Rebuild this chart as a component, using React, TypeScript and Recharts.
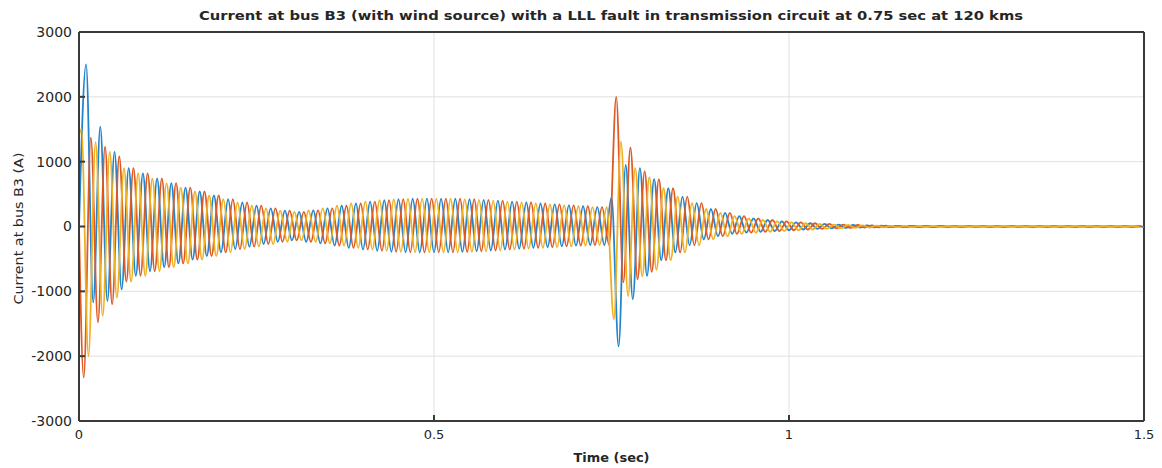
import React from 'react';
import { LineChart, Line, XAxis, YAxis, CartesianGrid, Label, ReferenceLine } from 'recharts';

// ---- text ----
const TITLE =
  'Current at bus B3 (with wind source) with a LLL fault in transmission circuit at 0.75 sec at 120 kms';
const X_LABEL = 'Time (sec)';
const Y_LABEL = 'Current at bus B3 (A)';

// ---- axes ----
const X_TICKS = [0, 0.5, 1, 1.5];
const Y_TICKS = [-3000, -2000, -1000, 0, 1000, 2000, 3000];
const X_DOMAIN: [number, number] = [0, 1.5];
const Y_DOMAIN: [number, number] = [-3000, 3000];

// ---- waveform timing (50 Hz system, fault at 0.75 s) ----
const PERIOD = 0.02;
const FAULT_TIME = 0.75;
const END_TIME = 1.5;

// ---- phases ----
const phaseNames = ['Phase A', 'Phase B', 'Phase C'];
const phaseColors = ['#2184cc', '#de5a24', '#efb022'];
// time of each phase's first extreme after t = 0, and whether it is a peak (+1) or a trough (-1)
const firstExtremeTime = [0.01, 0.02 / 3, 0.01 / 3];
const firstExtremeSign = [1, -1, 1];
// value at t = 0
const initialValue = [0, 0, 1400];

// successive extremes (peak / trough alternating) read at switch-on
const startA = [2500, -1170, 1540, -1150, 1150, -970];
const startB = [-2330, 1370, -1480, 1230, -1200, 1080];
const startC = [1500, -2000, 1300, -1380, 1150, -1100];

// successive extremes read from the fault instant (0.75 s) onward
const faultA = [450, -1850, 950, -1120, 900, -760];
const faultB = [2000, -860, 1215, -815, 850, -700];
const faultC = [-1430, 1310, -1075, 900, -770, 760];

// positive peak per cycle (cycle k spans k*0.02 .. (k+1)*0.02 s)
const upperEnvelope = [
  1500, 1400, 1150, 900, 820, 740, 670, 600, 540, 480,
  420, 370, 320, 280, 245, 225, 250, 280, 320, 355,
  385, 405, 420, 428, 430, 430, 428, 420, 410, 398,
  385, 370, 355, 340, 325, 312, 300, 300, 1000, 880,
  730, 590, 460, 360, 270, 210, 160, 125, 100, 80,
  65, 50, 40, 30, 23, 17, 13, 10, 9, 8,
  8, 7, 7, 6, 6, 6, 5, 5, 5, 5,
  5, 5, 5, 5, 5,
];
// negative trough per cycle
const lowerEnvelope = [
  -1500, -1300, -1100, -850, -760, -690, -630, -570, -510, -455,
  -400, -350, -310, -270, -235, -215, -235, -260, -295, -330,
  -355, -375, -390, -398, -400, -400, -398, -392, -382, -370,
  -355, -342, -330, -318, -305, -295, -285, -285, -1000, -800,
  -670, -520, -400, -290, -200, -150, -115, -95, -82, -70,
  -58, -46, -36, -28, -22, -16, -12, -10, -9, -8,
  -8, -7, -7, -6, -6, -6, -5, -5, -5, -5,
  -5, -5, -5, -5, -5,
];

const startExtremes = [startA, startB, startC];
const faultExtremes = [faultA, faultB, faultC];

type Pt = { t: number; v: number };

function buildPhase(p: number): Pt[] {
  const half = PERIOD / 2;
  const pts: Pt[] = [{ t: 0, v: initialValue[p] }];
  const start = startExtremes[p];
  const fault = faultExtremes[p];
  let faultIdx = -1;
  for (let j = 0; ; j++) {
    const t = Math.round((firstExtremeTime[p] + j * half) * 1e6) / 1e6;
    if (t > END_TIME + 1e-9) break;
    const positive = (j % 2 === 0) === firstExtremeSign[p] > 0;
    let v: number;
    if (faultIdx < 0 && t >= FAULT_TIME - 1e-6) faultIdx = j;
    if (j < start.length) {
      v = start[j];
    } else if (faultIdx >= 0 && j - faultIdx < fault.length) {
      v = fault[j - faultIdx];
    } else {
      const k = Math.min(upperEnvelope.length - 1, Math.floor(t / PERIOD + 1e-9));
      v = positive ? upperEnvelope[k] : lowerEnvelope[k];
    }
    pts.push({ t, v });
  }
  return pts;
}

const phaseData = phaseNames.map((_, i) => buildPhase(i));

const FONT = '"DejaVu Sans", Verdana, sans-serif';
const AXIS_COLOR = '#3a3a3a';
const TEXT_COLOR = '#262626';

export default function App() {
  return (
    <div
      style={{
        position: 'absolute',
        left: 0,
        top: 0,
        width: 1162,
        height: 468,
        background: '#ffffff',
        fontFamily: FONT,
      }}
    >
      <LineChart
        width={1162}
        height={468}
        margin={{ top: 32, right: 18, bottom: 17, left: 19 }}
      >
        <CartesianGrid stroke="#e0e0e0" strokeWidth={1} />
        <XAxis
          dataKey="t"
          type="number"
          domain={X_DOMAIN}
          ticks={X_TICKS}
          allowDataOverflow
          height={30}
          tickSize={-6}
          tickMargin={15}
          stroke={AXIS_COLOR}
          strokeWidth={2}
          tick={{ fill: TEXT_COLOR, fontSize: 13, fontFamily: FONT }}
          tickFormatter={(v: number) => String(v)}
        >
          <Label
            content={({ viewBox }: any) => (
              <text
                x={viewBox.x + viewBox.width / 2}
                y={viewBox.y + viewBox.height + 11}
                textAnchor="middle"
                fontSize={13}
                fontWeight="bold"
                fontFamily={FONT}
                fill={TEXT_COLOR}
                textLength={76}
                lengthAdjust="spacingAndGlyphs"
              >
                {X_LABEL}
              </text>
            )}
          />
        </XAxis>
        <YAxis
          type="number"
          domain={Y_DOMAIN}
          ticks={Y_TICKS}
          allowDataOverflow
          width={60}
          tickSize={-6}
          tickMargin={13}
          stroke={AXIS_COLOR}
          strokeWidth={2}
          tick={{ fill: TEXT_COLOR, fontSize: 14, fontFamily: FONT }}
        >
          <Label
            content={({ viewBox }: any) => {
              const cx = viewBox.x - 1;
              const cy = viewBox.y + viewBox.height / 2 + 2;
              return (
                <text
                  x={cx}
                  y={cy}
                  transform={`rotate(-90 ${cx} ${cy})`}
                  textAnchor="middle"
                  dominantBaseline="central"
                  fontSize={13}
                  fontFamily={FONT}
                  fill={TEXT_COLOR}
                  textLength={152}
                  lengthAdjust="spacingAndGlyphs"
                >
                  {Y_LABEL}
                </text>
              );
            }}
          />
        </YAxis>
        <ReferenceLine y={3000} stroke={AXIS_COLOR} strokeWidth={2} />
        <ReferenceLine x={1.5} stroke={AXIS_COLOR} strokeWidth={2} />
        {phaseNames.map((name, i) => (
          <Line
            key={name}
            name={name}
            data={phaseData[i]}
            dataKey="v"
            type="monotone"
            stroke={phaseColors[i]}
            strokeWidth={1.8}
            dot={false}
            activeDot={false}
            isAnimationActive={false}
          />
        ))}
      </LineChart>
      <svg
        width={1162}
        height={32}
        style={{ position: 'absolute', left: 0, top: 0, pointerEvents: 'none' }}
      >
        <text
          x={611}
          y={20}
          textAnchor="middle"
          fontSize={13}
          fontWeight="bold"
          fontFamily={FONT}
          fill={TEXT_COLOR}
          textLength={824}
          lengthAdjust="spacingAndGlyphs"
        >
          {TITLE}
        </text>
      </svg>
    </div>
  );
}
